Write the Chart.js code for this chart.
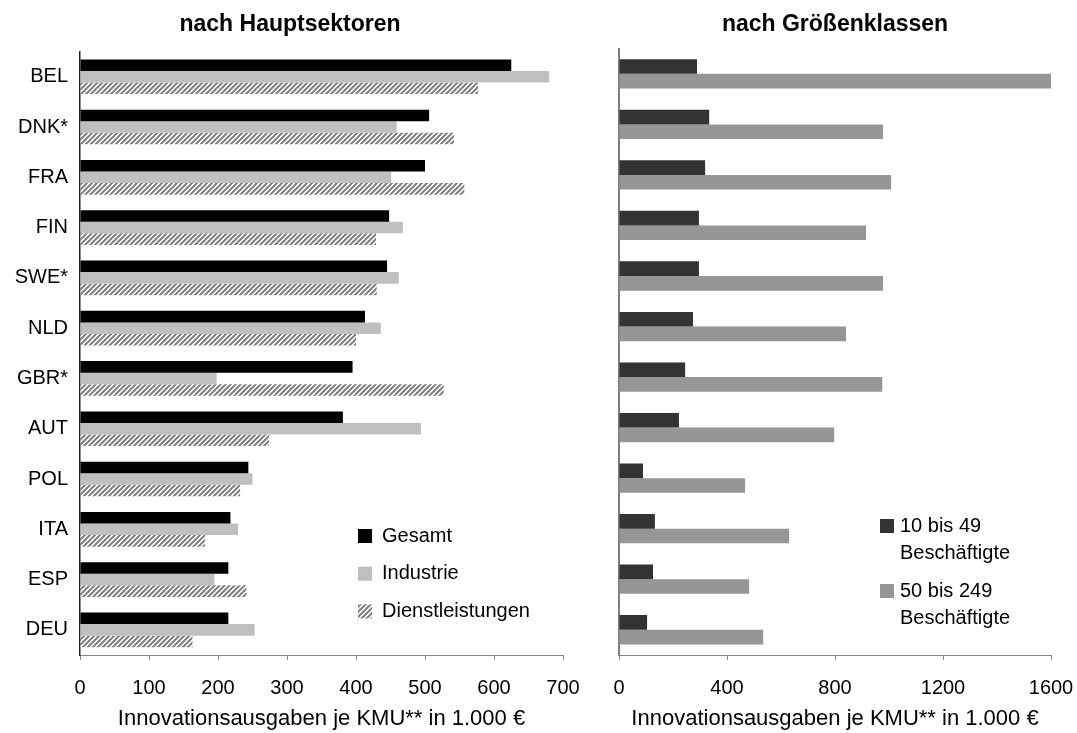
<!DOCTYPE html>
<html lang="de">
<head>
<meta charset="utf-8">
<title>Innovationsausgaben je KMU</title>
<script src="https://cdn.jsdelivr.net/npm/chart.js@4.4.1/dist/chart.umd.min.js"></script>
<style>
  html, body { margin: 0; padding: 0; background: #fff; overflow: hidden; }
  #wrap { position: relative; width: 1077px; height: 733px; }
  .box { position: absolute; top: 0; height: 733px; }
  #leftBox { left: 0; width: 580px; }
  #rightBox { left: 580px; width: 497px; }
</style>
</head>
<body>
<div id="wrap">
  <div class="box" id="leftBox"><canvas id="sectorChart"></canvas></div>
  <div class="box" id="rightBox"><canvas id="sizeChart"></canvas></div>
</div>
<script>
// Länder, von oben nach unten
const countries = ['BEL', 'DNK*', 'FRA', 'FIN', 'SWE*', 'NLD', 'GBR*', 'AUT', 'POL', 'ITA', 'ESP', 'DEU'];

// nach Hauptsektoren
const sectorSeries = ['Gesamt', 'Industrie', 'Dienstleistungen'];
const gesamt = [625, 506, 500, 448, 445, 413, 395, 381, 244, 218, 215, 215];
const industrie = [680, 459, 451, 468, 462, 436, 198, 494, 250, 229, 195, 253];
const dienstleistungen = [577, 542, 557, 429, 430, 400, 527, 274, 232, 181, 241, 163];
const sectorTicks = [0, 100, 200, 300, 400, 500, 600, 700];

// nach Größenklassen
const sizeSeries = ['10 bis 49\nBeschäftigte', '50 bis 249\nBeschäftigte'];
const small = [289, 334, 319, 296, 296, 274, 245, 222, 89, 133, 126, 104];
const medium = [1600, 978, 1008, 915, 978, 841, 975, 797, 467, 630, 482, 534];
const sizeTicks = [0, 400, 800, 1200, 1600];

const axisTitle = 'Innovationsausgaben je KMU** in 1.000 €';

Chart.defaults.font.family = '"Liberation Sans", Arial, sans-serif';
Chart.defaults.font.size = 20;
Chart.defaults.color = '#000';

// schraffiertes Muster für Dienstleistungen
function makeHatch() {
    const s = 5;
    const c = document.createElement('canvas');
    c.width = s;
    c.height = s;
    const g = c.getContext('2d');
    g.fillStyle = '#ffffff';
    g.fillRect(0, 0, s, s);
    g.strokeStyle = '#7f7f7f';
    g.lineWidth = 2;
    g.beginPath();
    g.moveTo(0, s); g.lineTo(s, 0);
    g.moveTo(-1, 1); g.lineTo(1, -1);
    g.moveTo(s - 1, s + 1); g.lineTo(s + 1, s - 1);
    g.stroke();
    return g.createPattern(c, 'repeat');
}

// Legende innerhalb der Zeichenfläche
const innerLegend = {
    id: 'innerLegend',
    afterDraw(chart, args, opts) {
        const ctx = chart.ctx;
        ctx.save();
        ctx.font = '20px "Liberation Sans", Arial, sans-serif';
        ctx.textBaseline = 'middle';
        let y = opts.y;
        chart.data.datasets.forEach(ds => {
            ctx.fillStyle = ds.backgroundColor;
            ctx.fillRect(opts.x, y - 7, 14, 14);
            ctx.fillStyle = '#000';
            ds.label.split('\n').forEach((line, i) => {
                ctx.fillText(line, opts.x + opts.textOffset, y + i * (opts.lineGap || 0));
            });
            y += opts.itemGap;
        });
        ctx.restore();
    }
};

const axisGray = '#868686';

function xScale(max, ticks, rightPad) {
    return {
        min: 0,
        max: max,
        afterBuildTicks: s => { s.ticks = ticks.map(v => ({ value: v })); },
        afterFit: s => {
            s.height = 78;
            s.paddingRight = rightPad;
        },
        grid: { drawOnChartArea: false, drawTicks: true, tickLength: 5, color: axisGray },
        border: { display: true, color: axisGray },
        ticks: { padding: 16, maxRotation: 0, callback: v => String(v) },
        title: { display: true, text: axisTitle, font: { size: 22 }, padding: { top: 0, bottom: 1 } }
    };
}

new Chart(document.getElementById('sectorChart'), {
    type: 'bar',
    data: {
        labels: countries,
        datasets: [
            { label: sectorSeries[0], data: gesamt, backgroundColor: '#000000' },
            { label: sectorSeries[1], data: industrie, backgroundColor: '#bfbfbf' },
            { label: sectorSeries[2], data: dienstleistungen, backgroundColor: makeHatch() }
        ]
    },
    options: {
        indexAxis: 'y',
        responsive: true,
        maintainAspectRatio: false,
        animation: false,
        datasets: { bar: { barPercentage: 1, categoryPercentage: 0.69 } },
        layout: { padding: { left: 0, right: 0, top: 0, bottom: 0 } },
        plugins: {
            legend: { display: false },
            tooltip: { enabled: false },
            title: {
                display: true,
                text: 'nach Hauptsektoren',
                font: { size: 23, weight: 'bold' },
                color: '#000',
                padding: { top: 11, bottom: 13 }
            },
            innerLegend: { x: 358, y: 536, itemGap: 37.7, textOffset: 24 }
        },
        scales: {
            x: xScale(700, sectorTicks, 17),
            y: {
                afterFit: s => { s.width = 80; },
                grid: { display: false },
                border: { display: true, color: '#222', width: 1.5 },
                ticks: { padding: 4 }
            }
        }
    },
    plugins: [innerLegend]
});

new Chart(document.getElementById('sizeChart'), {
    type: 'bar',
    data: {
        labels: countries,
        datasets: [
            { label: sizeSeries[0], data: small, backgroundColor: '#333333' },
            { label: sizeSeries[1], data: medium, backgroundColor: '#969696' }
        ]
    },
    options: {
        indexAxis: 'y',
        responsive: true,
        maintainAspectRatio: false,
        animation: false,
        datasets: { bar: { barPercentage: 1, categoryPercentage: 0.58 } },
        layout: { padding: { left: 0, right: 0, top: 0, bottom: 0 } },
        plugins: {
            legend: { display: false },
            tooltip: { enabled: false },
            title: {
                display: true,
                fullSize: false,
                text: 'nach Größenklassen',
                font: { size: 23, weight: 'bold' },
                color: '#000',
                padding: { top: 11, bottom: 10 }
            },
            innerLegend: { x: 300, y: 526, itemGap: 65, lineGap: 27, textOffset: 20 }
        },
        scales: {
            x: xScale(1600, sizeTicks, 26),
            y: {
                afterFit: s => { s.width = 39; },
                grid: { display: false },
                border: { display: true, color: '#7f7f7f', width: 2 },
                ticks: { display: false }
            }
        }
    },
    plugins: [innerLegend]
});
</script>
</body>
</html>
